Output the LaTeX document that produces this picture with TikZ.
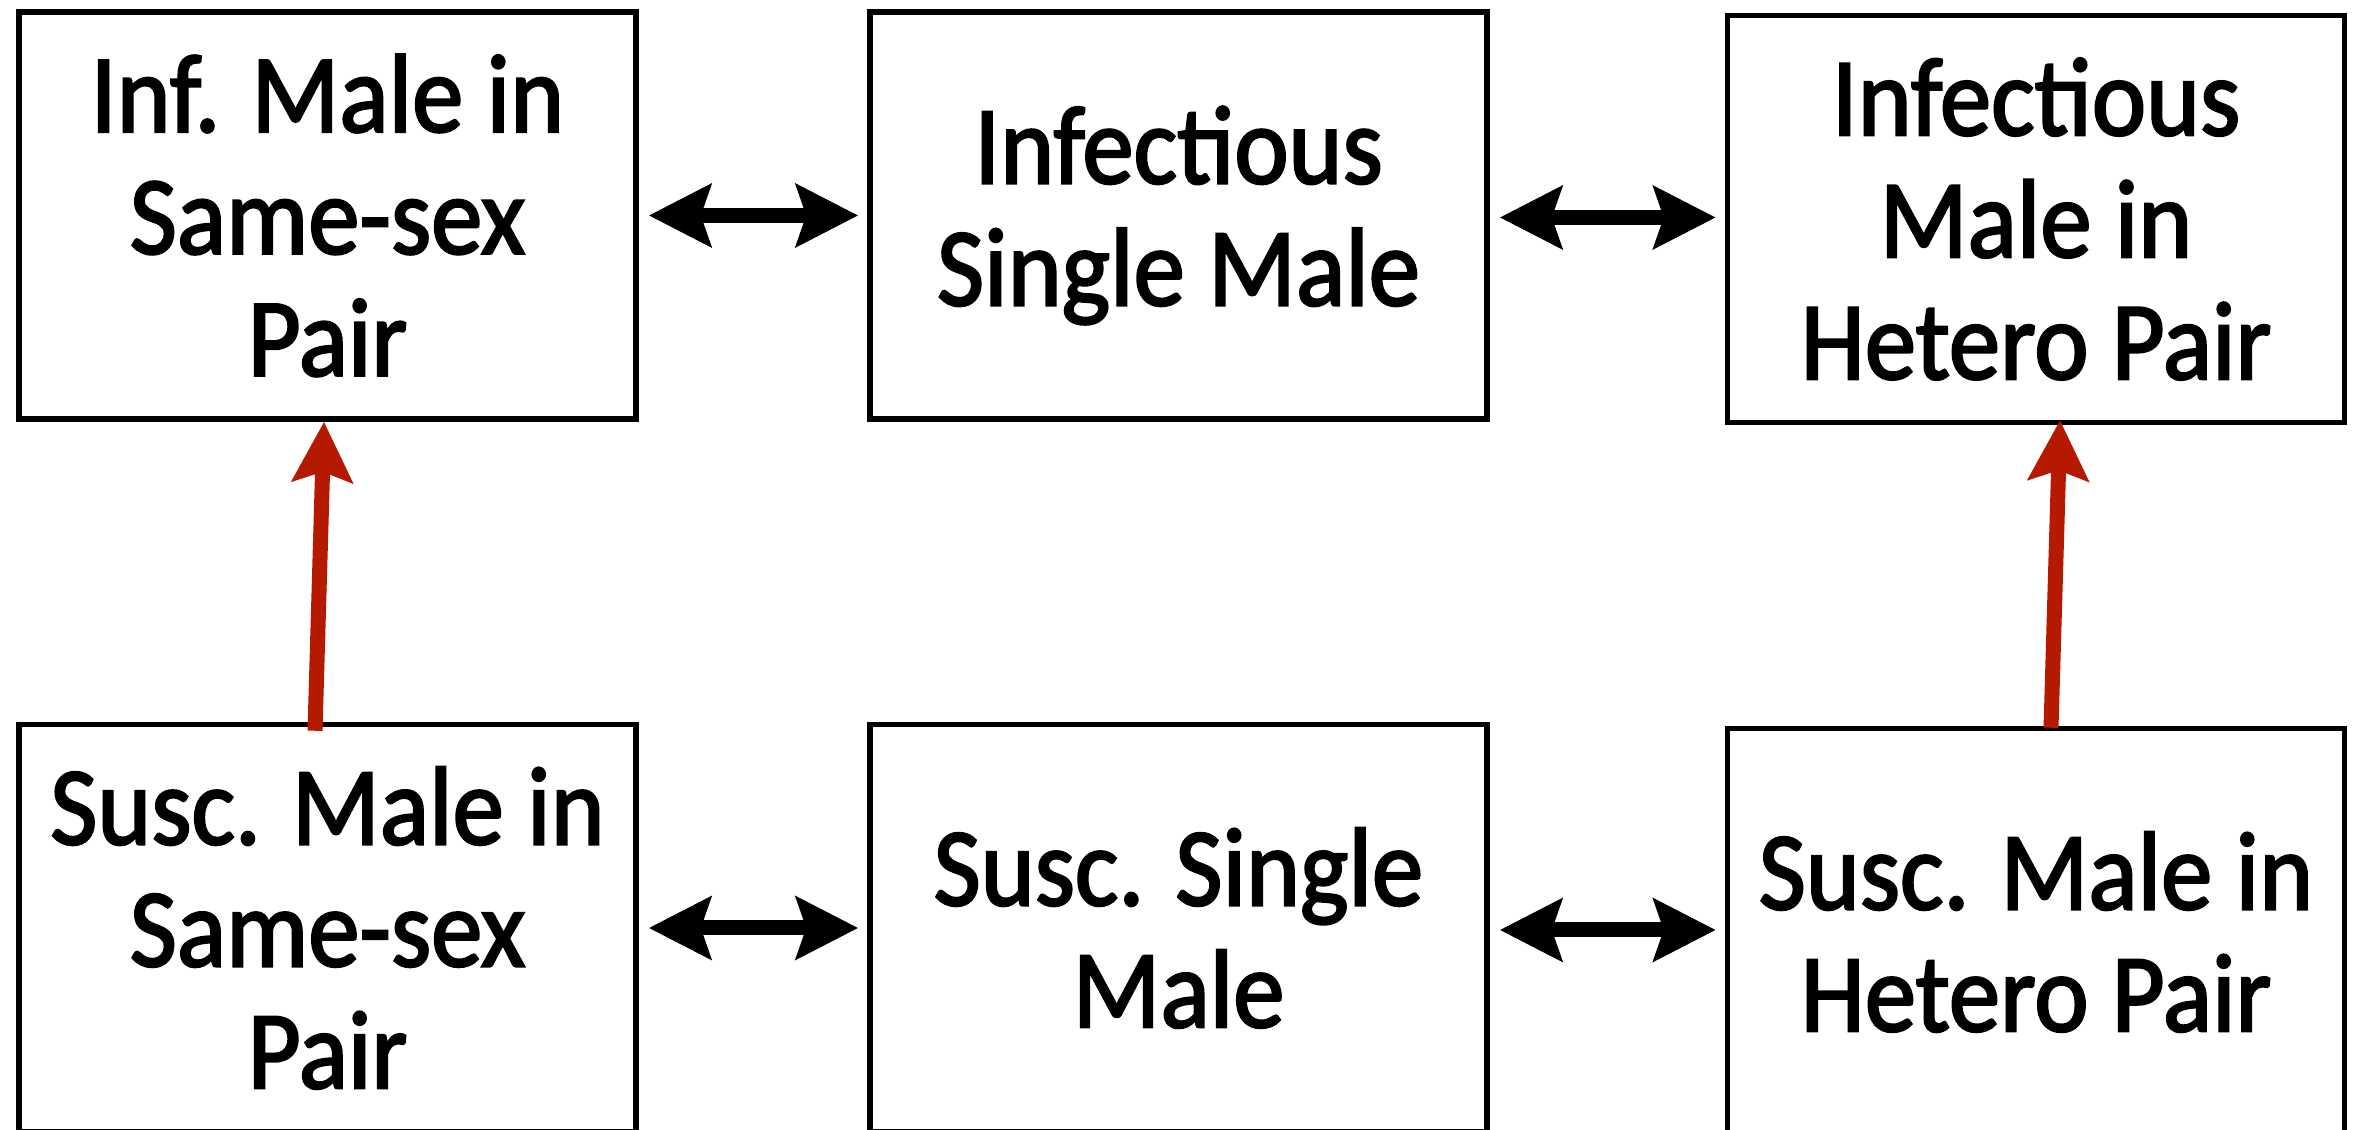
\documentclass[tikz,border=0pt]{standalone}
\usepackage{fontspec}
\setmainfont{Carlito}[FakeStretch=0.92,FakeBold=2]
\usetikzlibrary{arrows.meta}
\definecolor{arrowred}{RGB}{181,26,0}
\begin{document}
\begin{tikzpicture}[
  box/.style={draw=black, line width=0.055cm, rectangle, inner sep=0pt,
    minimum width=6.17cm, minimum height=4.07cm, align=center,
    font=\fontsize{31.8}{34.7}\selectfont},
  twoway/.style={line width=0.15cm,
    {Stealth[length=0.62cm,width=0.62cm,inset=0.1cm]}-{Stealth[length=0.62cm,width=0.62cm,inset=0.1cm]},
    shorten <=0.1cm, shorten >=0.09cm},
  infect/.style={draw=arrowred, line width=0.15cm,
    -{Stealth[length=0.6cm,width=0.6cm,inset=0.1cm,fill=arrowred]}}
]
\useasboundingbox[fill=white] (0,0) rectangle (23.53,-11.30);

\node[box] (TL) at (3.275,-2.155) {Inf. Male in\\Same-sex\\Pair};
\node[box] (TM) at (11.785,-2.155) {Infectious\\Single Male};
\node[box] (TR) at (20.36,-2.19) {Infectious\\Male in\\Hetero Pair};

\node[box] (BL) at (3.275,-9.28) {Susc. Male in\\Same-sex\\Pair};
\node[box] (BM) at (11.785,-9.28) {Susc. Single\\Male};
\node[box] (BR) at (20.36,-9.32) {Susc. Male in\\Hetero Pair};

\draw[twoway] (TL.east) -- (TM.west);
\draw[twoway] ([yshift=-0.02cm]TM.east) -- ([yshift=-0.02cm]TM.east -| TR.west);
\draw[twoway] (BL.east) -- (BM.west);
\draw[twoway] ([yshift=-0.02cm]BM.east) -- ([yshift=-0.02cm]BM.east -| BR.west);

\draw[infect] ([xshift=-0.125cm,yshift=-0.09cm]BL.north) -- ([xshift=-0.035cm]TL.south);
\draw[infect] ([xshift=0.15cm,yshift=-0.02cm]BR.north) -- ([xshift=0.24cm,yshift=0.05cm]TR.south);
\end{tikzpicture}
\end{document}
